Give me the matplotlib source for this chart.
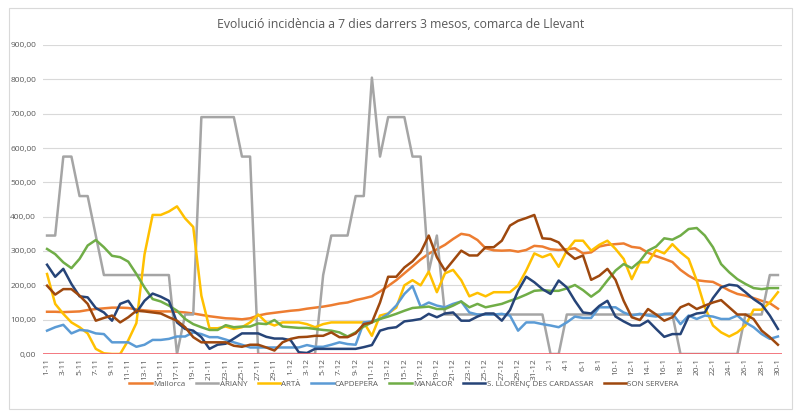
import matplotlib
matplotlib.use("Agg")
import matplotlib.pyplot as plt
from matplotlib.ticker import FuncFormatter
from matplotlib.patches import Rectangle
import numpy as np

title = "Evolució incidència a 7 dies darrers 3 mesos, comarca de Llevant"

months = [(11, 30), (12, 31), (1, 30)]
dates = [f"{d}-{m}" for m, n in months for d in range(1, n + 1)]

mallorca = [123,123,122,123,124,128,131,133,135,135,134,130,127,125,124,124,123,121,118,114,110,107,104,
            103,101,104,112,117,120,123,126,128,132,135,138,142,147,150,157,162,168,182,198,215,235,255,
            275,292,305,318,335,350,346,332,308,302,301,302,298,303,315,313,305,303,305,308,293,296,313,
            318,320,322,312,309,295,285,277,268,245,228,215,212,210,198,185,175,170,163,155,148,132]
ariany = [345,345,575,575,460,460,345,230,230,230,230,230,230,230,230,230,0,115,115,690,690,690,690,690,
          575,575,0,0,0,0,0,0,0,0,230,345,345,345,460,460,805,575,690,690,690,575,575,240,345,
          115,115,115,115,115,115,115,115,115,115,115,115,115,0,0,115,115,115,115,115,115,115,115,115,115,
          115,115,115,115,0,0,0,0,0,0,0,0,115,115,115,230,230]
arta = [233,146,117,92,78,60,15,2,0,0,40,90,290,405,405,415,430,395,370,170,75,75,80,73,78,92,115,92,83,
        92,92,92,87,78,87,92,92,92,92,92,53,112,118,135,200,215,200,240,180,235,245,215,168,178,168,180,
        180,180,200,243,293,282,291,254,301,330,330,301,318,330,306,277,218,267,267,303,293,320,296,277,
        214,136,83,63,51,63,83,129,129,150,180]
capdepera = [68,78,85,60,70,68,60,58,34,34,34,21,27,41,41,44,51,51,63,58,49,49,42,34,27,19,19,19,19,19,
             19,19,26,21,21,27,34,29,27,92,95,102,117,141,175,198,138,150,141,136,146,153,121,115,115,115,
             117,112,68,92,92,87,83,78,92,109,105,105,136,136,136,121,112,117,112,109,117,118,87,112,102,
             112,109,102,102,112,92,78,58,44,51]
manacor = [306,291,267,250,277,316,332,311,286,282,269,233,194,160,153,141,126,102,87,78,70,70,84,78,80,
           80,89,87,99,80,78,76,76,73,70,68,63,51,63,80,92,102,109,117,126,134,136,138,131,131,141,153,
           136,146,136,141,146,155,163,173,184,186,184,184,191,201,186,167,184,214,243,262,250,270,301,
           313,337,333,345,364,367,345,311,262,238,218,204,192,189,192,192]
llorenc = [260,225,248,204,168,165,134,121,97,146,155,121,155,176,167,155,92,73,68,49,15,27,30,45,60,60,60,
           50,45,45,40,5,3,15,15,15,15,15,15,20,26,68,75,78,95,98,102,117,107,118,121,97,97,109,118,118,97,
           128,184,225,209,189,175,214,194,155,121,118,140,155,109,95,83,83,97,73,50,58,58,109,118,121,163,
           194,202,199,180,160,144,112,73]
sonservera = [199,173,189,189,170,146,97,105,112,92,107,126,124,121,118,107,97,78,49,34,34,34,34,24,21,27,
              27,19,10,34,44,49,50,53,53,63,49,49,60,87,92,150,225,225,252,270,296,345,282,243,272,301,287,
              287,311,311,330,374,388,396,405,337,335,325,296,277,287,216,228,248,216,155,107,99,131,115,97,
              107,136,146,131,141,150,157,136,115,115,102,68,49,27]

series_names = ["Mallorca", "ARIANY", "ARTÀ", "CAPDEPERA", "MANACOR",
                "S. LLORENÇ DES CARDASSAR", "SON SERVERA"]
series_values = [mallorca, ariany, arta, capdepera, manacor, llorenc, sonservera]
colors = ["#ED7D31", "#A5A5A5", "#FFC000", "#5B9BD5", "#70AD47", "#264478", "#9E480E"]

plt.rcParams['font.family'] = ['Open Sans', 'DejaVu Sans']
narrow = ['Liberation Sans Narrow', 'Open Sans', 'DejaVu Sans']

fig = plt.figure(figsize=(8, 4.12), dpi=100)
ax = fig.add_axes([43/800, 58/412, (782-43)/800, (354-45)/412])

x = np.arange(len(dates))
for name, vals, c in zip(series_names, series_values, colors):
    ax.plot(x, vals, color=c, lw=1.8, label=name, solid_joinstyle='round', zorder=3)

ax.axhline(0, color="#F2626B", lw=1.2, zorder=4)

ax.set_xlim(-0.5, len(dates) - 0.5)
ax.set_ylim(0, 900)
ax.set_yticks(np.arange(0, 901, 100))
ax.yaxis.set_major_formatter(FuncFormatter(lambda v, p: f"{v:.2f}".replace(".", ",")))
ax.grid(axis='y', color="#D9D9D9", lw=0.8, zorder=0)
ax.set_axisbelow(True)
ax.set_xticks(x[::2])
ax.set_xticklabels(dates[::2], rotation=90, fontsize=6, color="#595959", family=narrow)
ax.tick_params(axis='y', labelsize=6, labelcolor="#595959", length=0, pad=5)
ax.tick_params(axis='x', length=0, pad=3)
for s in ax.spines.values():
    s.set_visible(False)

fig.text(401/800, 1 - 25/412, title, ha='center', va='center', fontsize=8.8, color="#595959")

leg = fig.legend(loc='center', bbox_to_anchor=(404/800, 1 - 384/412), ncol=7, frameon=False,
                 prop={'family': narrow, 'size': 5.8},
                 handlelength=2.8, columnspacing=1.3, handletextpad=0.15, labelcolor="#595959")

fig.add_artist(Rectangle((9/800, 1 - 409/412), (792-9)/800, (409-8)/412, transform=fig.transFigure,
                         fill=False, edgecolor="#D9D9D9", lw=0.8))

fig.savefig("out.png", dpi=100, facecolor="white")
